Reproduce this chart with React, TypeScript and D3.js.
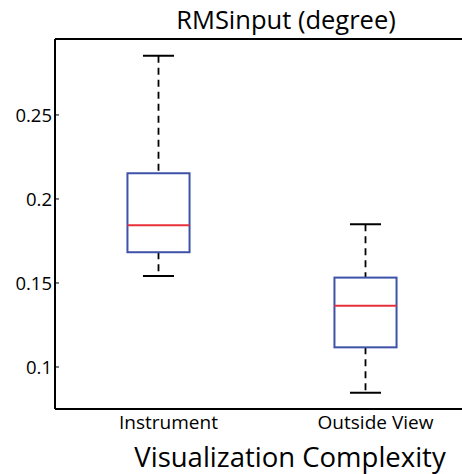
import React from 'react';
import * as d3 from 'd3';

const categories = ['Instrument', 'Outside View'];
const lowerWhisker = [0.1542, 0.0847];
const quartile1 = [0.1683, 0.1117];
const medians = [0.1843, 0.1365];
const quartile3 = [0.2153, 0.1532];
const upperWhisker = [0.2853, 0.1849];
const yTicks = [0.1, 0.15, 0.2, 0.25];

const W = 462;
const H = 474;
const font = '"Open Sans", sans-serif';

const App = () => {
    const left = 55, top = 39, bottom = 409, right = 469;

    // positions 1..n, xlim [0.5, n+0.5]
    const x = d3.scaleLinear().domain([0.5, categories.length + 0.5]).range([left, right]);
    const y = d3.scaleLinear().domain([0.075, 0.2952]).range([bottom, top]);

    const boxHalf = 0.15;
    const capHalf = 0.075;

    return (
        <svg width={W} height={H} style={{ position: 'absolute', left: 0, top: 0, background: '#fff' }}>
            {/* title */}
            <text x={286} y={29} textAnchor="middle" fontFamily={font} fontSize={25.5} fill="#000">
                RMSinput (degree)
            </text>

            {/* axis frame */}
            <line x1={left} x2={W} y1={top} y2={top} stroke="#000" strokeWidth={2} />
            <line x1={left} x2={W} y1={bottom} y2={bottom} stroke="#000" strokeWidth={2} />
            <line x1={left} x2={left} y1={top} y2={bottom} stroke="#000" strokeWidth={2} />

            {/* y ticks */}
            {yTicks.map(t => (
                <g key={t}>
                    <line x1={left} x2={left + 4} y1={y(t)} y2={y(t)} stroke="#000" strokeWidth={1} />
                    <text x={left - 3} y={y(t)} dy="0.36em" textAnchor="end" fontFamily={font} fontSize={18.5} fill="#000">
                        {d3.format('~g')(t)}
                    </text>
                </g>
            ))}

            {/* boxes */}
            {categories.map((c, i) => {
                const p = i + 1;
                const cx = x(p);
                return (
                    <g key={c}>
                        <line x1={cx} x2={cx} y1={y(upperWhisker[i])} y2={y(quartile3[i])}
                            stroke="#000" strokeWidth={1.8} strokeDasharray="7,5" />
                        <line x1={cx} x2={cx} y1={y(quartile1[i])} y2={y(lowerWhisker[i])}
                            stroke="#000" strokeWidth={1.8} strokeDasharray="7,5" />
                        <line x1={x(p - capHalf)} x2={x(p + capHalf)} y1={y(upperWhisker[i])} y2={y(upperWhisker[i])}
                            stroke="#000" strokeWidth={2} />
                        <line x1={x(p - capHalf)} x2={x(p + capHalf)} y1={y(lowerWhisker[i])} y2={y(lowerWhisker[i])}
                            stroke="#000" strokeWidth={2} />
                        <rect x={x(p - boxHalf)} y={y(quartile3[i])}
                            width={x(p + boxHalf) - x(p - boxHalf)} height={y(quartile1[i]) - y(quartile3[i])}
                            fill="#fff" stroke="#3d52a8" strokeWidth={2} />
                        <line x1={x(p - boxHalf)} x2={x(p + boxHalf)} y1={y(medians[i])} y2={y(medians[i])}
                            stroke="#e8303a" strokeWidth={2} />
                        <text x={cx + 10} y={428.5} textAnchor="middle" fontFamily={font} fontSize={19} fill="#000">
                            {c}
                        </text>
                    </g>
                );
            })}

            {/* x label */}
            <text x={290} y={467} textAnchor="middle" fontFamily={font} fontSize={27.5} fill="#000">
                Visualization Complexity
            </text>
        </svg>
    );
};

export default App;
